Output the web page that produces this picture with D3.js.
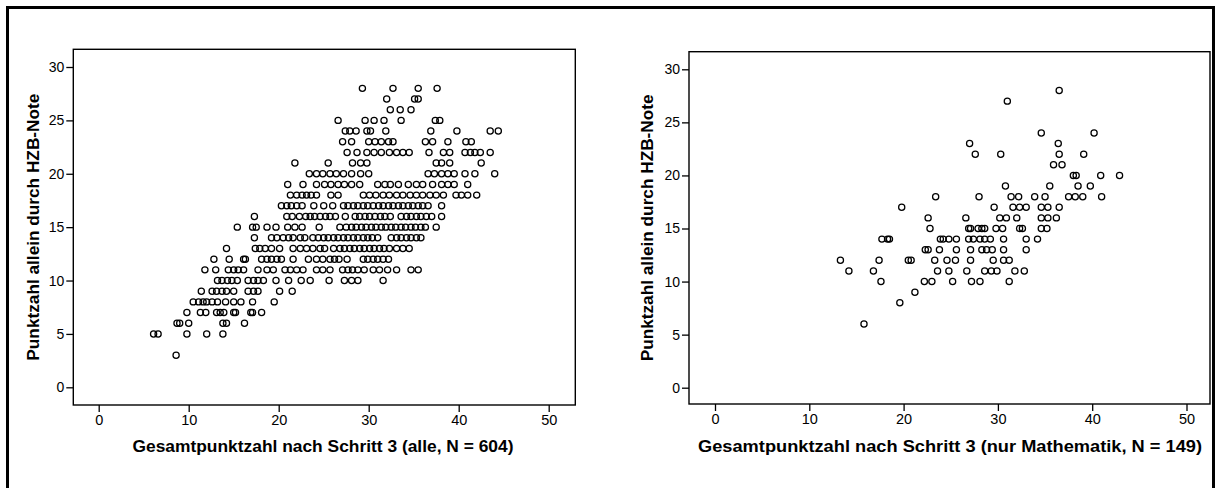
<!DOCTYPE html>
<html><head><meta charset="utf-8">
<script src="https://cdn.jsdelivr.net/npm/d3@7"></script>
<style>
html,body{margin:0;padding:0;background:#fff;}
svg{display:block;}
text{font-family:"Liberation Sans",Arial,sans-serif;fill:#000;}
</style></head>
<body><svg id="c" width="1218" height="488"></svg>
<script>
// ---------- data ----------
const xTicks = [0, 10, 20, 30, 40, 50];
const yTicks = [0, 5, 10, 15, 20, 25, 30];
const yTitle = "Punktzahl allein durch HZB-Note";
const xTitleAlle = "Gesamtpunktzahl nach Schritt 3 (alle, N = 604)";
const xTitleMathe = "Gesamtpunktzahl nach Schritt 3 (nur Mathematik, N = 149)";

// left panel (alle): HZB points per row, and Gesamtpunktzahl values in that row
const alleY = [28,27,26,25,24,23,22,21,20,19,18,17,16,15,14,13,12,11,10,9,8,7,6,5,3];
const alleX = [
 [29.3,32.7,35.5,37.6],
 [32.0,35.1,35.5],
 [32.4,33.5,34.7],
 [26.6,29.6,30.6,31.7,33.6,37.4,37.9],
 [27.4,27.9,28.6,29.8,30.2,31.9,36.9,39.8,43.5,44.4],
 [27.1,28.1,30.0,30.7,31.4,32.2,32.7,36.3,37.1,38.8,40.8,41.4],
 [27.6,28.7,29.8,30.6,31.4,32.3,33.1,33.8,34.5,36.7,38.3,39.0,40.7,41.3,41.8,42.4,43.5],
 [21.8,25.5,28.2,29.1,29.8,37.5,38.1,39.0,42.5],
 [23.4,24.2,24.9,25.7,26.4,27.2,28.1,29.1,30.0,36.6,37.3,38.1,38.8,39.5,40.7,41.8,44.0],
 [21.0,22.7,24.2,25.1,25.8,26.6,27.3,28.1,29.0,31.0,31.8,32.4,33.3,34.4,35.3,36.0,37.1,38.1,38.8,39.5,41.0],
 [21.3,22.0,22.6,23.1,23.6,24.2,25.8,26.6,29.4,30.1,30.8,31.6,32.3,33.1,33.8,34.6,35.3,36.0,36.8,37.5,38.3,39.7,40.3,41.0,42.0],
 [20.3,20.9,21.4,22.0,22.6,23.9,25.0,26.0,27.2,27.7,28.3,28.8,29.4,29.9,30.5,31.1,31.6,32.2,32.7,33.3,33.8,34.4,34.9,35.5,36.0,36.6,38.1],
 [17.3,20.9,21.5,22.3,23.0,23.5,24.0,24.6,25.2,25.7,26.3,27.4,28.5,29.0,29.6,30.1,30.7,31.3,31.8,32.4,33.6,34.2,34.7,35.3,35.8,36.4,37.0,38.1],
 [15.4,17.1,17.5,18.7,19.7,21.0,21.8,22.6,24.5,26.8,27.5,28.1,28.6,29.2,29.7,30.3,30.8,31.4,31.9,32.5,33.0,33.6,34.1,34.7,35.2,35.8,36.3,37.5],
 [17.3,19.2,19.8,20.5,21.1,21.6,22.4,22.9,23.8,24.4,25.0,25.5,26.1,26.6,27.2,27.7,28.3,28.8,29.4,29.9,30.4,31.0,32.5,33.1,33.6,34.2,34.7,35.3,35.8],
 [14.2,17.4,17.9,18.5,19.2,20.1,21.6,22.4,23.1,23.8,24.6,25.1,26.1,26.8,27.3,27.9,28.4,29.0,29.5,30.1,30.6,31.2,31.7,32.3,33.1,33.8,34.5],
 [12.8,14.5,16.1,16.3,18.1,18.7,19.2,19.8,20.3,21.6,23.3,24.2,24.9,25.7,26.2,26.7,27.6,29.4,29.9,30.5,31.0,31.6,32.2],
 [11.8,13.0,14.4,15.0,15.5,16.1,17.7,18.7,19.4,20.7,21.3,22.0,22.7,24.2,24.9,25.7,27.1,27.7,28.2,28.8,29.5,30.5,31.2,32.1,33.1,34.7,35.5],
 [13.2,13.7,14.3,14.8,15.4,16.6,17.2,17.7,18.3,19.7,21.1,22.5,23.5,25.6,27.3,28.1,28.8,31.6],
 [11.4,12.6,13.1,13.7,14.2,15.0,16.6,17.2,17.7,20.1,21.5],
 [10.5,11.1,11.6,12.0,12.6,13.2,14.1,15.0,15.8,17.1,19.5],
 [9.8,11.3,11.9,13.1,13.5,13.9,15.0,15.2,16.9,17.1,18.1],
 [8.7,9.0,10.0,13.8,14.2,16.2],
 [6.1,6.6,9.8,12.0,13.8],
 [8.6]
];

// right panel (nur Mathematik)
const matheY = [28,27,24,23,22,21,20,19,18,17,16,15,14,13,12,11,10,9,8,6];
const matheX = [
 [36.5],
 [31.0],
 [34.6,40.2],
 [27.0,36.4],
 [27.6,30.3,36.5,39.1],
 [35.9,36.8],
 [38.0,38.3,40.9,42.9],
 [30.8,35.5,38.5,39.8],
 [23.4,28.0,31.4,32.2,33.9,35.0,37.5,38.2,39.0,41.0],
 [19.8,29.6,31.6,32.3,33.0,34.6,35.3,36.5],
 [22.6,26.6,30.2,30.9,32.0,34.6,35.3,36.2],
 [22.8,26.9,27.1,27.9,28.3,28.6,29.8,30.5,32.3,32.6,34.6,35.2],
 [17.7,18.3,18.5,23.9,24.2,24.8,25.6,26.9,27.4,28.1,28.6,29.2,30.6,33.0,34.2],
 [22.3,22.6,23.8,25.6,27.1,28.3,28.8,29.4,30.6,33.0],
 [13.3,17.4,20.5,20.8,23.3,24.6,25.5,27.1,29.5,30.6,31.2],
 [14.2,16.8,23.6,24.8,26.7,28.6,29.3,29.9,31.8,32.8],
 [17.6,22.2,23.0,25.2,27.2,28.1,31.2],
 [21.2],
 [19.6],
 [15.8]
];

// ---------- drawing ----------
const svg = d3.select("#c");
svg.append("rect").attr("x",7.5).attr("y",7.5).attr("width",1206).attr("height",520)
  .attr("fill","none").attr("stroke","#000").attr("stroke-width",3);

function panel(cfg){
  const g = svg.append("g");
  const x = d3.scaleLinear().domain([0,50]).range(cfg.xr);
  const y = d3.scaleLinear().domain([0,30]).range(cfg.yr);
  const [fl,ft,fr,fb] = cfg.frame;
  const pts = [];
  cfg.ys.forEach((yy,i)=>cfg.xs[i].forEach(xx=>pts.push([xx,yy])));
  g.selectAll("circle").data(pts).join("circle")
    .attr("cx",d=>x(d[0])).attr("cy",d=>y(d[1])).attr("r",3.1)
    .attr("fill","none").attr("stroke","#000").attr("stroke-width",1.25);
  g.append("rect").attr("x",fl).attr("y",ft).attr("width",fr-fl).attr("height",fb-ft)
    .attr("fill","none").attr("stroke","#000").attr("stroke-width",1.4);
  const ya = g.append("g").attr("transform",`translate(${fl},0)`)
    .call(d3.axisLeft(y).tickValues(yTicks).tickSize(7).tickPadding(2).tickFormat(d3.format("d")));
  ya.select(".domain").remove();
  ya.selectAll("line").attr("stroke","#000").attr("stroke-width",1.3);
  ya.selectAll("text").attr("font-size",14).attr("fill","#000").style("font-family","Liberation Sans, Arial, sans-serif");
  const xa = g.append("g").attr("transform",`translate(0,${fb})`)
    .call(d3.axisBottom(x).tickValues(xTicks).tickSize(7).tickPadding(3).tickFormat(d3.format("d")));
  xa.select(".domain").remove();
  xa.selectAll("line").attr("stroke","#000").attr("stroke-width",1.3);
  xa.selectAll("text").attr("font-size",14.5).attr("fill","#000").style("font-family","Liberation Sans, Arial, sans-serif");
  g.append("text").attr("x",cfg.xtc).attr("y",452).attr("text-anchor","middle")
    .attr("font-size",16.5).attr("font-weight","bold")
    .attr("textLength",cfg.xtw).attr("lengthAdjust","spacingAndGlyphs").text(cfg.xt);
  g.append("text").attr("transform",`translate(${cfg.ytx},${(ft+fb)/2}) rotate(-90)`)
    .attr("text-anchor","middle").attr("font-size",16.5).attr("font-weight","bold")
    .attr("textLength",267).attr("lengthAdjust","spacingAndGlyphs").text(yTitle);
}

panel({xr:[98.7,548.7], yr:[387.3,67], frame:[73.3,49.3,575.3,405], ys:alleY, xs:alleX, xt:xTitleAlle, xtc:323, xtw:381, ytx:39});
panel({xr:[715,1186.5], yr:[387.7,69.3], frame:[689,51.7,1210,404], ys:matheY, xs:matheX, xt:xTitleMathe, xtc:950, xtw:504, ytx:653});
</script></body></html>
